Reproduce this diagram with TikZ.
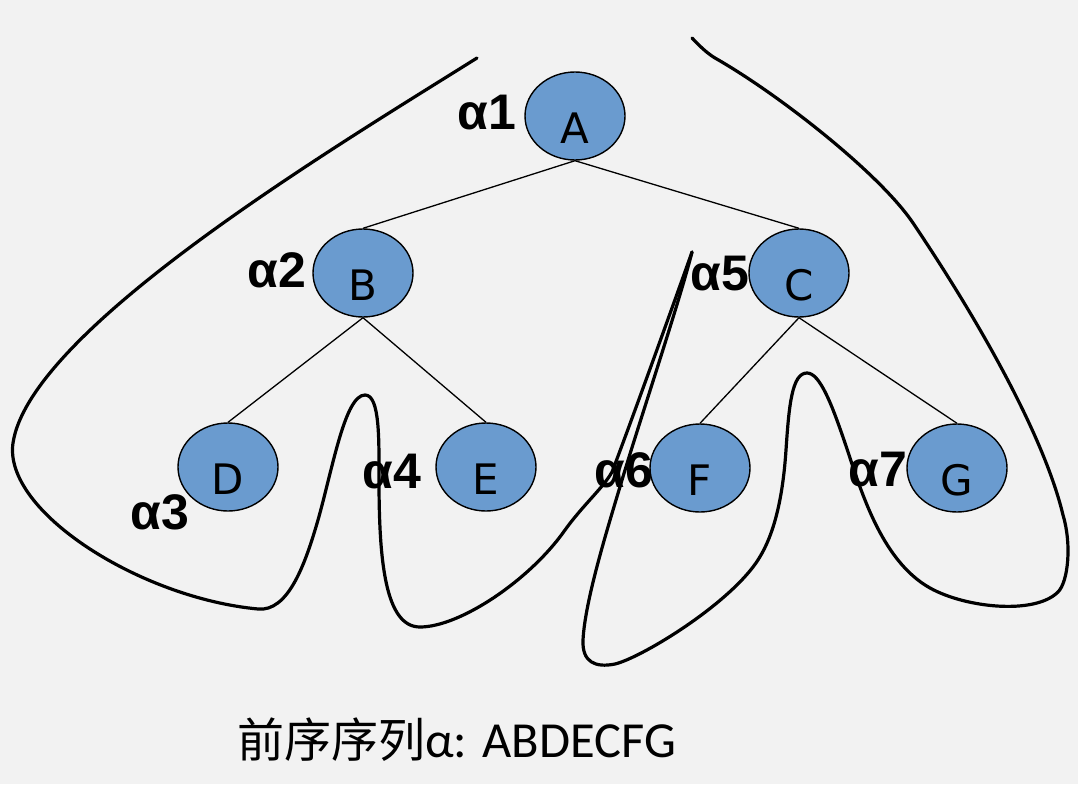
\documentclass[tikz,border=0pt]{standalone}
\usepackage{fontspec}
\setmainfont{Carlito}
\newfontfamily\cjk{Noto Sans CJK SC}
\newfontfamily\lblfont{Liberation Sans}
\newfontfamily\letfont{DejaVu Sans}
\usetikzlibrary{shapes.geometric}
\definecolor{bg}{HTML}{F2F2F2}
\definecolor{nodefill}{HTML}{6A9BCF}
\begin{document}
\begin{tikzpicture}[x=1pt,y=-1pt,
  tnode/.style={ellipse, draw=black, line width=1.4pt, fill=nodefill, minimum width=100pt, minimum height=88pt, inner sep=0pt},
  letter/.style={font=\letfont\fontsize{42}{42}\selectfont, inner sep=0pt},
  lbl/.style={font=\lblfont\bfseries\fontsize{50}{50}\selectfont, inner sep=0pt},
  edge/.style={line width=1.3pt},
  trail/.style={line width=3.2pt, line cap=round, line join=round}]
\fill[bg] (0,0) rectangle (1078,784);
\useasboundingbox (0,0) rectangle (1078,784);
% tree nodes
\node[tnode] (A) at (575,116) {};
\node[tnode] (B) at (363,273) {};
\node[tnode] (C) at (799,273) {};
\node[tnode] (D) at (228,467) {};
\node[tnode] (E) at (486,467) {};
\node[tnode] (F) at (700,468) {};
\node[tnode] (G) at (957,468) {};
% letters
\node[letter] (tA) at ([yshift=-12pt]A.center) {A};
\node[letter] (tB) at ([yshift=-12pt]B.center) {B};
\node[letter] (tC) at ([yshift=-12pt]C.center) {C};
\node[letter] (tD) at ([yshift=-12pt]D.center) {D};
\node[letter] (tE) at ([yshift=-12pt]E.center) {E};
\node[letter] (tF) at ([yshift=-12pt]F.center) {F};
\node[letter] (tG) at ([yshift=-12pt]G.center) {G};
% edges
\draw[edge] (A.south) -- (B.north);
\draw[edge] (A.south) -- (C.north);
\draw[edge] (B.south) -- (D.north);
\draw[edge] (B.south) -- (E.north);
\draw[edge] (C.south) -- (F.north);
\draw[edge] (C.south) -- (G.north);
% labels
\node[lbl] (l1) at (487,113) {α1};
\node[lbl] (l2) at (277,270) {α2};
\node[lbl] (l3) at (160,512) {α3};
\node[lbl] (l4) at (392,472) {α4};
\node[lbl] (l5) at (720,274) {α5};
\node[lbl] (l6) at (624,470) {α6};
\node[lbl] (l7) at (878,470) {α7};
% traversal trail
\coordinate (s0) at (477,58);
\coordinate (tip) at (692,252);
\coordinate (s1) at (692,38);
\draw[trail] (s0)
  .. controls (330,150) and (30,330) .. (13,443)
  .. controls (3,511) and (140,598) .. (258,609)
  .. controls (288,612) and (305,565) .. (318,520)
  .. controls (333,467) and (345,395) .. (365,395)
  .. controls (380,395) and (379,440) .. (379,480)
  .. controls (379,560) and (385,627) .. (420,627)
  .. controls (460,627) and (530,580) .. (565,530)
  .. controls (583,505) and (603,488) .. (612,472)
  .. controls (630,425) and (675,300) .. (tip);
\draw[trail] (tip)
  .. controls (680,300) and (640,420) .. (622,480)
  .. controls (608,527) and (585,600) .. (583,640)
  .. controls (582,662) and (595,668) .. (615,664)
  .. controls (640,658) and (720,610) .. (753,567)
  .. controls (770,545) and (782,510) .. (786,450)
  .. controls (789,405) and (792,373) .. (807,373)
  .. controls (820,373) and (832,405) .. (845,443)
  .. controls (860,487) and (880,560) .. (930,588)
  .. controls (966,608) and (1035,615) .. (1058,592)
  .. controls (1068,582) and (1072,545) .. (1063,515)
  .. controls (1045,440) and (985,330) .. (913,223)
  .. controls (880,174) and (780,95) .. (715,58)
  .. controls (705,52) and (697,43) .. (s1);
% caption
\node[anchor=base west, inner sep=0pt] (seq) at (237,757)
  {{\cjk\fontsize{47}{47}\selectfont 前序序列}{\fontsize{50.5}{50.5}\selectfont α: ABDECFG}};
\end{tikzpicture}
\end{document}
